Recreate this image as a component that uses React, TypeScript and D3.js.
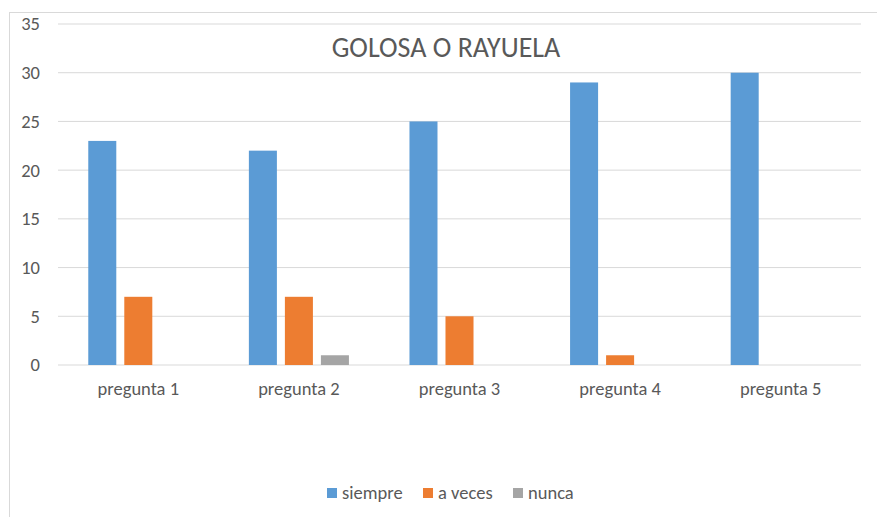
import React from 'react'
import * as d3 from 'd3';

const categories = ["pregunta 1", "pregunta 2", "pregunta 3", "pregunta 4", "pregunta 5"];
const seriesNames = ["siempre", "a veces", "nunca"];
const siempre = [23, 22, 25, 29, 30];
const aVeces = [7, 7, 5, 1, 0];
const nunca = [0, 1, 0, 0, 0];
const yTicks = [0, 5, 10, 15, 20, 25, 30, 35];
const colors = ["#5b9bd5", "#ed7d31", "#a5a5a5"];

const App = () => {
    const width = 877;
    const height = 517;
    const left = 58, right = 861, top = 24, bottom = 365;
    const font = "Carlito, Calibri, 'Liberation Sans', sans-serif";

    const values = [siempre, aVeces, nunca];

    const x = d3.scaleBand().domain(categories).range([left, right]).padding(0);
    const groupW = x.bandwidth() * 0.623;
    const xInner = d3.scaleBand()
        .domain(seriesNames)
        .range([(x.bandwidth() - groupW) / 2, (x.bandwidth() + groupW) / 2])
        .paddingInner(0.222)
        .paddingOuter(0);
    const y = d3.scaleLinear().domain([0, 35]).range([bottom, top]);

    const legendX = [327, 423, 513];

    return (
        <svg width={width} height={height} style={{ position: 'absolute', left: 0, top: 0, background: '#fff' }}
            fontFamily={font}>
            <rect x={9.5} y={12.5} width={900} height={600} fill="none" stroke="#d9d9d9" />
            {yTicks.map(t => (
                <g key={t}>
                    <line x1={left} x2={right} y1={y(t)} y2={y(t)} stroke="#d9d9d9" strokeWidth={1} />
                    <text x={40} y={y(t)} dy="0.35em" textAnchor="end" fontSize={18.5} fill="#595959">{t}</text>
                </g>
            ))}
            {categories.map((c, i) => (
                <g key={c} transform={`translate(${x(c)},0)`}>
                    {seriesNames.map((s, j) => values[j][i] > 0 && (
                        <rect key={s} x={xInner(s)} width={xInner.bandwidth()} y={y(values[j][i])}
                            height={y(0) - y(values[j][i])} fill={colors[j]} />
                    ))}
                    <text x={x.bandwidth() / 2} y={389} dy="0.35em" textAnchor="middle" fontSize={18.5} fill="#595959">{c}</text>
                </g>
            ))}
            <text x={446} y={47} dy="0.35em" textAnchor="middle" fontSize={28} fill="#595959">GOLOSA O RAYUELA</text>
            {seriesNames.map((s, j) => (
                <g key={s} transform={`translate(${legendX[j]},493)`}>
                    <rect x={0} y={-5} width={10} height={10} fill={colors[j]} />
                    <text x={15} y={0} dy="0.35em" fontSize={18.5} fill="#595959">{s}</text>
                </g>
            ))}
        </svg>
    )
}

export default App
